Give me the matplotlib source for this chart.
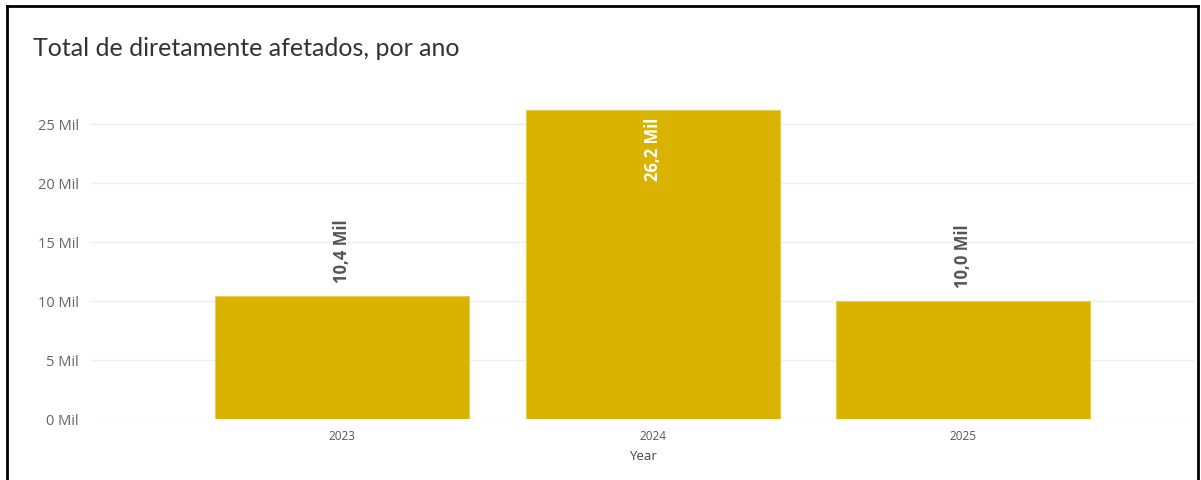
import matplotlib.pyplot as plt
from matplotlib.lines import Line2D

years = ['2023', '2024', '2025']
afetados = [10.4, 26.2, 10.0]  # em milhares
value_labels = ['10,4 Mil', '26,2 Mil', '10,0 Mil']
y_ticks = [0, 5, 10, 15, 20, 25]

W, H = 1201, 481
fig = plt.figure(figsize=(W / 100, H / 100), dpi=100)
fig.patch.set_facecolor('white')

# axes placed in pixel terms: y=0 at row 420, 5 Mil per 59 px
ymax = 27.0
px_per_unit = 59 / 5
top_px = 420 - ymax * px_per_unit
ax = fig.add_axes([90 / W, (H - 420) / H, (1195 - 90) / W, (420 - top_px) / H])

x = list(range(len(years)))
bar_color = '#D9B300'
ax.bar(x, afetados, width=0.817, color=bar_color, edgecolor='#E6CB55', linewidth=0.8, zorder=2)

ax.set_xlim(-0.81, 2.745)
ax.set_ylim(0, ymax)
ax.set_yticks(y_ticks)
ax.set_yticklabels([f'{t} Mil' for t in y_ticks])
ax.set_xticks(x)
ax.set_xticklabels(years)

ax.grid(axis='y', color='#EFEFEF', linewidth=1, zorder=0)
for s in ax.spines.values():
    s.set_visible(False)
ax.tick_params(axis='y', length=0, pad=8, labelsize=10.5, labelcolor='#666666')
ax.tick_params(axis='x', length=0, pad=7, labelsize=8.5, labelcolor='#555555')
for lbl in ax.get_yticklabels() + ax.get_xticklabels():
    lbl.set_family('Open Sans')

ax.set_xlabel('Year', fontsize=9.5, color='#444444', family='Open Sans', labelpad=5)

# data labels: inside the bar when it is too tall, otherwise above
for xi, v, txt in zip(x, afetados, value_labels):
    if v > 20:
        ax.annotate(txt, (xi, v), xytext=(0, -5), textcoords='offset points',
                    rotation=90, ha='center', va='top', color='white',
                    fontsize=12, fontweight='bold', family='Open Sans')
    else:
        ax.annotate(txt, (xi, v), xytext=(0, 10), textcoords='offset points',
                    rotation=90, ha='center', va='bottom', color='#555555',
                    fontsize=12, fontweight='bold', family='Open Sans')

fig.text(33 / W, 1 - 49 / H, 'Total de diretamente afetados, por ano',
         fontsize=18, color='#333333', family='Lato', va='center', ha='left')

# card border
lw = 2
fig.add_artist(Line2D([7 / W, 7 / W], [0, 1 - 7 / H], color='black', lw=lw))
fig.add_artist(Line2D([7 / W, 1198 / W], [1 - 7 / H, 1 - 7 / H], color='black', lw=lw))
fig.add_artist(Line2D([1198 / W, 1198 / W], [0, 1 - 7 / H], color='black', lw=lw))

fig.savefig('out.png', dpi=100, facecolor='white')
